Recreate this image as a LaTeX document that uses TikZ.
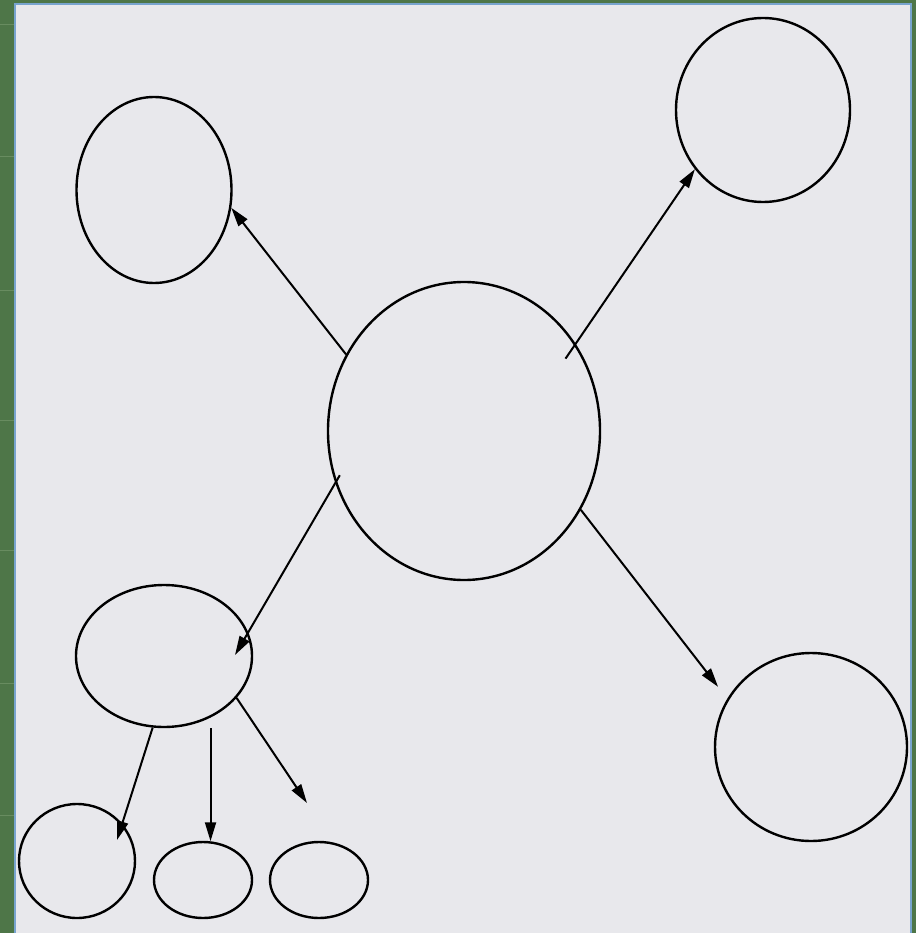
\documentclass[tikz,border=0pt]{standalone}
\usepackage{tikz}
\usetikzlibrary{arrows.meta,shapes.geometric,calc}
\definecolor{slidegreen}{RGB}{78,118,72}
\definecolor{bandline}{RGB}{104,140,96}
\definecolor{paper}{RGB}{232,232,236}
\definecolor{frameblue}{RGB}{120,164,206}

\begin{document}
\begin{tikzpicture}[x=1pt,y=-1pt,
  bubble/.style={draw,ellipse,line width=2.4pt,inner sep=0pt},
  arr/.style={draw,line width=2pt,-{Triangle[length=19pt,width=11pt]}}]
\useasboundingbox (0,0) rectangle (916,933);

% ---- slide background ----
\fill[slidegreen] (0,0) rectangle (916,933);
\foreach \y in {25,157,290,420,550,683,815}
  \draw[bandline,line width=1pt] (0,\y) -- (15,\y);
\draw[frameblue,line width=2pt,fill=paper] (15,4) rectangle (911,940);

% ---- bubbles ----
\node[bubble,minimum width=272pt,minimum height=298pt] (hub) at (464,431) {};
\node[bubble,minimum width=155pt,minimum height=186pt] (tl) at (154,190) {};
\node[bubble,minimum width=174pt,minimum height=184pt] (tr) at (763,110) {};
\node[bubble,minimum width=192pt,minimum height=188pt] (br) at (811,747) {};
\node[bubble,minimum width=176pt,minimum height=142pt] (ml) at (164,656) {};
\node[bubble,minimum width=116pt,minimum height=114pt] (c1) at (77,861) {};
\node[bubble,minimum width=98pt,minimum height=76pt] (e2) at (203,880) {};
\node[bubble,minimum width=98pt,minimum height=76pt] (e3) at (319,880) {};
\coordinate (stub) at (307,803);

% ---- arrows ----
\draw[arr] (hub.147) -- (tl.-13);
\draw[arr,shorten <=-18pt] (hub.38) -- (tr.-139);
\draw[arr,shorten <=-9pt] (hub.202) -- ($(ml.center)+(71,-1)$);
\draw[arr,shorten >=15pt] (hub.-34) -- (br.150);
\draw[arr] (ml.-99) -- ($(c1.center)+(40,-21)$);
\draw[arr] (e2.79 |- ml.south) -- (e2.79);
\draw[arr] (ml.-30) -- (stub);
\end{tikzpicture}
\end{document}
